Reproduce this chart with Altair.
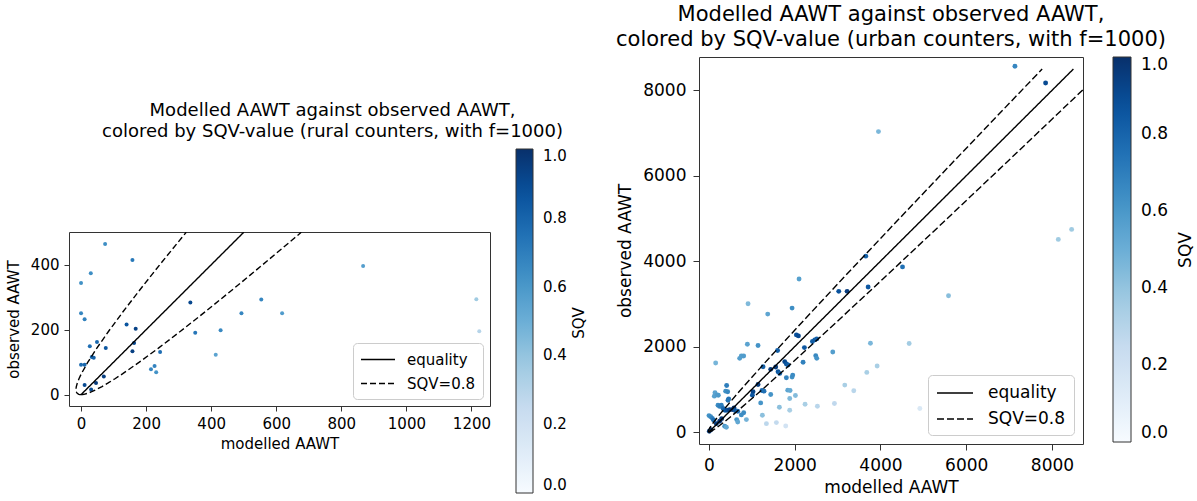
import altair as alt
import pandas as pd

# ---------------- rural counters ----------------
rural_modelled = [74, 158, 30, 0, 0, 11, 867, 1215, 1224, 336, 554, 493, 618, 140, 168, 351, 429,
                  27, 49, 76, 163, 158, 243, 414, 0, 11, 33, 39, 215, 226, 231, 70, 46, 11, 31]
rural_observed = [464, 415, 374, 344, 251, 232, 396, 294, 195, 284, 293, 251, 251, 216, 203, 191, 198,
                  149, 162, 144, 159, 134, 131, 123, 92, 92, 116, 114, 78, 88, 69, 56, 36, 30, 16]
rural_sqv = [0.64, 0.72, 0.64, 0.63, 0.67, 0.69, 0.57, 0.37, 0.30, 0.91, 0.67, 0.67, 0.58, 0.86, 0.93, 0.73, 0.66,
             0.76, 0.78, 0.85, 0.90, 0.94, 0.76, 0.55, 0.77, 0.79, 0.80, 0.82, 0.67, 0.68, 0.62, 0.94, 0.95, 0.90, 0.89]

# reference curves (rural): observed value and modelled value on each SQV=0.8 branch
rural_curve_obs = [0, 0.25, 1, 4, 9, 16, 25, 36, 49, 64, 100, 144, 196, 256, 324, 400, 484, 500]
rural_curve_low = [0, -3.70, -6.91, -11.81, -14.72, -15.62, -14.53, -11.43, -6.34, 0.75, 20.94, 49.13,
                   85.32, 129.51, 181.70, 241.89, 310.07, 323.22]
rural_curve_high = [0, 4.20, 8.91, 19.81, 32.72, 47.62, 64.53, 83.43, 104.34, 127.25, 179.06, 238.87,
                    306.68, 382.49, 466.30, 558.11, 657.93, 676.78]
rural_equality = [0, 500]

# ---------------- urban counters ----------------
urban_modelled = [7136, 7852, 3953, 8459, 8148, 3657, 4514, 5587, 3027, 3222, 3712, 2101, 911, 1938, 1370,
                  2039, 2086, 895, 1144, 3766, 4669, 2226, 2413, 2467, 2514, 2887, 2490, 2514, 2195, 1600,
                  156, 755, 809, 716, 1767, 1805, 1844, 3922, 3681, 3167, 3377, 4918, 2926, 2529, 2241,
                  1883, 1339, 1572, 1790, 1261, 1440, 1556, 1611, 1650, 1805, 1938, 1953, 1144, 1027, 1012,
                  1237, 1284, 1440, 1206, 1837, 1891, 1883, 2016, 1245, 1642,
                  125, 140, 187, 218, 389, 436, 412, 459, 444, 210, 249, 288, 327, 373, 420, 482, 545, 583,
                  615, 670, 755, 810, 872, 646, 670, 0, 39, 78, 109, 171, 249, 296, 366, 405, 47, 8]
urban_observed = [8565, 8172, 7035, 4745, 4510, 4118, 3867, 3192, 3294, 3294, 3396, 3584, 3004, 2902, 2761,
                  2274, 2251, 2055, 2024, 2078, 2071, 1976, 2118, 2157, 2180, 1875, 1788, 1725, 1635, 1910,
                  1616, 1780, 1780, 1725, 1647, 1592, 1569, 1545, 1396, 1098, 965, 549, 667, 604, 651,
                  510, 196, 220, 141, 1529, 1467, 1521, 1412, 1372, 1270, 1286, 1333, 1114, 941, 863,
                  973, 957, 878, 682, 980, 973, 784, 855, 392, 580,
                  840, 920, 870, 860, 957, 941, 1090, 776, 745, 627, 600, 627, 549, 510, 510, 520, 525, 565,
                  500, 486, 400, 450, 290, 290, 235, 384, 360, 320, 274, 196, 251, 313, 133, 110, 55, 16]
urban_sqv = [0.67, 0.90, 0.46, 0.37, 0.37, 0.81, 0.75, 0.43, 0.87, 0.95, 0.85, 0.56, 0.45, 0.64, 0.54,
             0.87, 0.90, 0.55, 0.62, 0.46, 0.36, 0.85, 0.83, 0.83, 0.82, 0.57, 0.66, 0.62, 0.69, 0.82,
             0.47, 0.57, 0.58, 0.57, 0.91, 0.86, 0.82, 0.34, 0.34, 0.34, 0.29, 0.15, 0.27, 0.29, 0.34,
             0.34, 0.28, 0.26, 0.19, 0.82, 0.95, 0.95, 0.86, 0.81, 0.68, 0.63, 0.65, 0.95, 0.92, 0.86,
             0.79, 0.75, 0.62, 0.61, 0.54, 0.52, 0.45, 0.44, 0.42, 0.42,
             0.56, 0.55, 0.58, 0.59, 0.63, 0.66, 0.70, 0.74, 0.74, 0.65, 0.69, 0.70, 0.77, 0.84, 0.89, 0.95, 0.97, 0.97,
             0.86, 0.79, 0.64, 0.65, 0.48, 0.60, 0.53, 0.62, 0.65, 0.70, 0.76, 0.95, 0.98, 0.97, 0.61, 0.53, 0.97, 0.94]

urban_curve_obs = [0, 1, 4, 16, 36, 64, 100, 225, 400, 900, 1600, 2500, 3600, 4900, 6400, 8100, 8500]
urban_curve_low = [0, -6.91, -11.81, -15.62, -11.43, 0.75, 20.94, 106.41, 241.89, 662.83, 1283.77,
                   2104.72, 3125.66, 4346.60, 5767.54, 7388.49, 7771.11]
urban_curve_high = [0, 8.91, 19.81, 47.62, 83.43, 127.25, 179.06, 343.59, 558.11, 1137.17, 1916.23,
                    2895.28, 4074.34, 5453.40, 7032.46, 8811.51, 9228.89]
urban_equality = [0, 8500]

sqv_ticks = [0.0, 0.2, 0.4, 0.6, 0.8, 1.0]
blues_stops = [0, 0.125, 0.25, 0.375, 0.5, 0.625, 0.75, 0.875, 1]
blues_colors = ['#f7fbff', '#deebf7', '#c6dbef', '#9ecae1', '#6baed6', '#4292c6', '#2171b5', '#08519c', '#08306b']

FONT = "DejaVu Sans"
LINE_SYMBOL = "M-1,0H3"   # legend line sample, wider than its row height


def lines_frame(obs, low, high, eq):
    rows = []
    for o, m in zip(obs, low):
        rows.append({"modelled": m, "observed": o, "series": "SQV=0.8", "branch": "low"})
    for o, m in zip(obs, high):
        rows.append({"modelled": m, "observed": o, "series": "SQV=0.8", "branch": "high"})
    for v in eq:
        rows.append({"modelled": v, "observed": v, "series": "equality", "branch": "eq"})
    return pd.DataFrame(rows)


def panel(mod, obs, sqv, lines_df, xdom, ydom, xticks, yticks, w, h, fs, tfs, title_lines,
          title_offset, title_dx, cb_x, cb_y, cb_len, cb_thick, sqv_x, sqv_y, pt_size, dash,
          leg_sym, leg_pad, leg_row, leg_off, leg_lab_off, tick_size, lab_pad, ytitle_pad, xtitle_pad):
    pts_df = pd.DataFrame({"modelled": mod, "observed": obs, "SQV": sqv})
    xaxis = alt.Axis(values=xticks, grid=False, domain=False, tickColor="#333", tickSize=tick_size,
                     labelFontSize=fs, titleFontSize=fs, titleFontWeight="normal", labelColor="black",
                     titleColor="black", labelPadding=lab_pad, titlePadding=xtitle_pad, labelFlush=False,
                     format="d", labelFont=FONT, titleFont=FONT)
    yaxis = alt.Axis(values=yticks, grid=False, domain=False, tickColor="#333", tickSize=tick_size,
                     labelFontSize=fs, titleFontSize=fs, titleFontWeight="normal", labelColor="black",
                     titleColor="black", labelPadding=lab_pad, titlePadding=ytitle_pad, format="d",
                     labelFont=FONT, titleFont=FONT)
    x = alt.X("modelled:Q", title="modelled AAWT",
              scale=alt.Scale(domain=xdom, nice=False, zero=False), axis=xaxis)
    y = alt.Y("observed:Q", title="observed AAWT",
              scale=alt.Scale(domain=ydom, nice=False, zero=False), axis=yaxis)
    points = alt.Chart(pts_df).mark_circle(size=pt_size, opacity=1).encode(
        x=x, y=y,
        color=alt.Color("SQV:Q",
                        scale=alt.Scale(domain=blues_stops, range=blues_colors, interpolate="rgb"),
                        legend=alt.Legend(orient="none", legendX=cb_x, legendY=cb_y, direction="vertical",
                                          gradientLength=cb_len, gradientThickness=cb_thick,
                                          gradientStrokeColor="#333", gradientStrokeWidth=1,
                                          values=sqv_ticks, format=".1f", labelFontSize=fs,
                                          labelFont=FONT, labelColor="black", labelOffset=10,
                                          labelBaseline="middle", title=None)),
    )
    lines = alt.Chart(lines_df).mark_line(color="black", strokeWidth=1.4, clip=True).encode(
        x="modelled:Q", y="observed:Q",
        strokeDash=alt.StrokeDash("series:N",
                                  scale=alt.Scale(domain=["equality", "SQV=0.8"], range=[[1, 0], dash]),
                                  legend=alt.Legend(orient="bottom-right", title=None, symbolType=LINE_SYMBOL,
                                                    symbolSize=leg_sym, symbolStrokeColor="black",
                                                    symbolFillColor="transparent",
                                                    symbolStrokeWidth=1.4, labelFontSize=fs,
                                                    labelFont=FONT, labelColor="black",
                                                    strokeColor="#cccccc", fillColor="white",
                                                    padding=leg_pad, cornerRadius=4, offset=leg_off,
                                                    rowPadding=leg_row, labelOffset=leg_lab_off)),
        detail="branch:N",
        order="observed:Q",
    )
    sqv_label = alt.Chart(pd.DataFrame({"t": ["SQV"]})).mark_text(
        angle=270, fontSize=fs, font=FONT, color="black", align="center", baseline="middle"
    ).encode(text="t:N", x=alt.value(sqv_x), y=alt.value(sqv_y))
    return alt.layer(points, lines, sqv_label).properties(
        width=w, height=h,
        title=alt.Title(text=title_lines, fontSize=tfs, fontWeight="normal", font=FONT, color="black",
                        anchor="middle", frame="group", offset=title_offset, dx=title_dx,
                        lineHeight=tfs * 1.17),
    )


left = panel(rural_modelled, rural_observed, rural_sqv,
             lines_frame(rural_curve_obs, rural_curve_low, rural_curve_high, rural_equality),
             [-37, 1257], [-35, 501], [0, 200, 400, 600, 800, 1000, 1200], [0, 200, 400],
             421, 174, 15, 18,
             ["Modelled AAWT against observed AAWT,",
              "colored by SQV-value (rural counters, with f=1000)"],
             8, 53, 447, -83, 344, 17, 510, 91, 16, [6, 3],
             289, 7, 6, 7, 28, 5, 5, 9, 5)

right = panel(urban_modelled, urban_observed, urban_sqv,
              lines_frame(urban_curve_obs, urban_curve_low, urban_curve_high, urban_equality),
              [-233, 8724], [-281, 8782], [0, 2000, 4000, 6000, 8000], [0, 2000, 4000, 6000, 8000],
              384, 387, 17, 21,
              ["Modelled AAWT against observed AAWT,",
               "colored by SQV-value (urban counters, with f=1000)"],
              7, 0, 414, 0, 385, 18, 487, 193, 24, [7, 3],
              324, 8, 8, 9, 32, 6, 7, 8, 6)

spacer = alt.Chart(pd.DataFrame({"v": [0]})).mark_point(opacity=0).encode(
    x=alt.value(0), y=alt.value(0)
).properties(width=1, height=43, view=alt.ViewBackground(stroke="transparent"))

left_col = alt.vconcat(spacer, left, spacing=0).resolve_scale(
    color="independent", strokeDash="independent"
).resolve_legend(color="independent", strokeDash="independent")

chart = alt.hconcat(left_col, right, spacing=27).resolve_scale(
    color="independent", strokeDash="independent"
).resolve_legend(
    color="independent", strokeDash="independent"
).properties(
    padding={"left": 5, "top": 3, "right": 2, "bottom": 2}
).configure_view(stroke="#333", strokeWidth=1)

chart.save("out.html", embed_options={"renderer": "svg", "actions": False})
